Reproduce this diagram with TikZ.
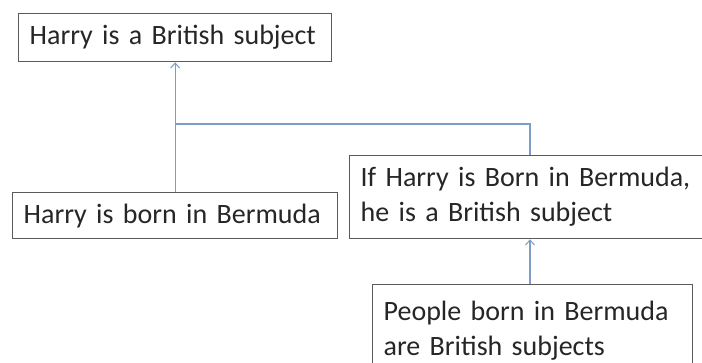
\documentclass[tikz,border=0pt]{standalone}
\usepackage{fontspec}
\setmainfont{Carlito}
\usetikzlibrary{arrows.meta}
\definecolor{boxline}{HTML}{5A5A5A}
\definecolor{conn}{HTML}{7F9CC4}
\definecolor{txt}{HTML}{262626}
\begin{document}
\begin{tikzpicture}[x=1pt,y=-1pt,
  box/.style={draw=boxline, line width=1.3pt, anchor=north west, inner xsep=11pt, inner ysep=0pt,
    align=left, text=txt, font=\fontsize{28}{35}\selectfont},
  conline/.style={draw=conn, line width=1.2pt},
  arr/.style={conline, -{Straight Barb[length=5pt,width=9pt,line width=1pt]}}]
\useasboundingbox (0,0) rectangle (702,363);
\node[box, text width=291pt, minimum height=48pt] (b1) at (18,13) {Harry is a British subject};
\node[box, text width=303pt, minimum height=46pt] (b2) at (12,192) {Harry is born in Bermuda};
\node[box, text width=341pt, minimum height=83pt] (b3) at (349,155) {If Harry is Born in Bermuda,\\he is a British subject};
\node[box, text width=298pt, minimum height=92pt] (b4) at (372,284) {People born in Bermuda\\are British subjects};
\coordinate (j1) at (b2.north |- 0,124);
\coordinate (j2) at (530,124);
\draw[arr] (b2.north) -- (b2.north |- b1.south);
\draw[conline] (j1) -- (j2) -- (j2 |- b3.north);
\draw[arr] (j2 |- b4.north) -- (j2 |- b3.south);
\end{tikzpicture}
\end{document}
